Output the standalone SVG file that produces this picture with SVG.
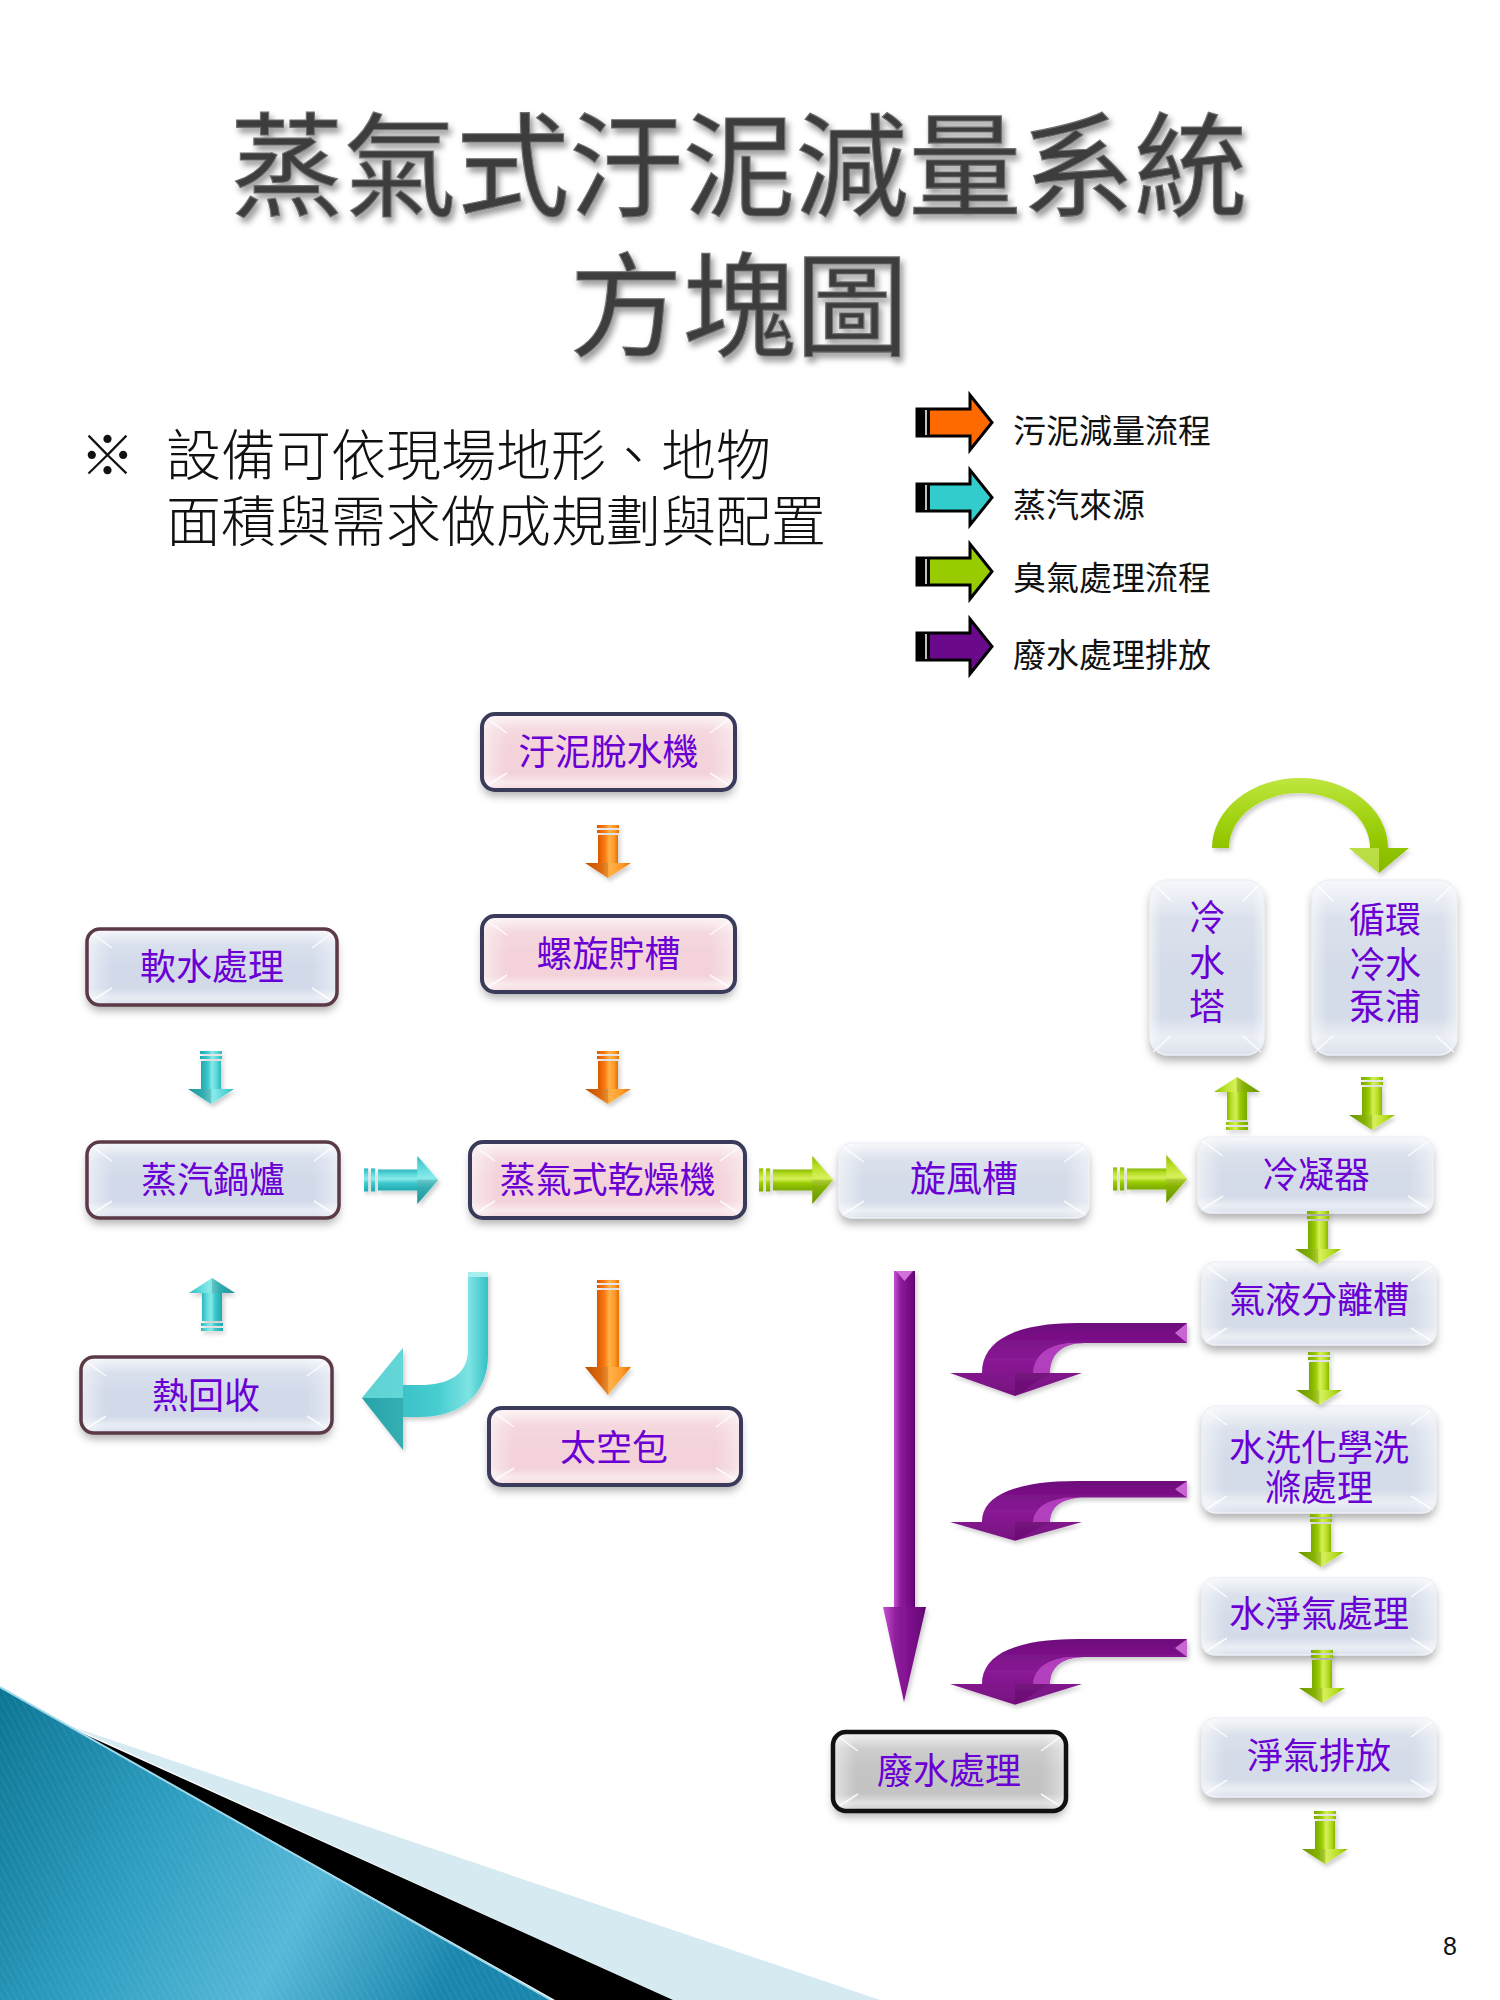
<svg xmlns="http://www.w3.org/2000/svg" xmlns:xlink="http://www.w3.org/1999/xlink" width="1500" height="2000" viewBox="0 0 1500 2000">
<style>
.t{font-family:"Liberation Sans","Noto Sans CJK TC","Noto Sans CJK SC",sans-serif}
.lbl{font-size:36px;fill:#6a00d4;text-anchor:middle}
.face{filter:url(#sh)}
.bv{fill:url(#gV)}
.bh{fill:url(#gH);stroke-width:3.5}
.pink .face{fill:#f3d2d9}
.pink .bh{stroke:#3a3a5a;stroke-width:4}
.blue .face{fill:#d2daea}
.blue .bh{stroke:#5c3947}
.soft .face{fill:#d5dce9}
.soft .bh{stroke:#eef1f7;stroke-width:1.5}
.gray .face{fill:#c4c4c4}
.gray .bh{stroke:#111;stroke-width:4.5}
.cl{stroke:#fff;stroke-opacity:.85;stroke-width:1.5;fill:none}
.leg{font-size:33px;fill:#111}
.lga{stroke:#000;stroke-width:3;stroke-linejoin:miter}
</style>
<defs>
<filter id="sh" x="-10%" y="-20%" width="120%" height="160%"><feDropShadow dx="0" dy="6" stdDeviation="4" flood-color="#000" flood-opacity="0.3"/></filter>
<filter id="tsh" x="-5%" y="-10%" width="110%" height="130%"><feDropShadow dx="3" dy="5" stdDeviation="3" flood-color="#000" flood-opacity="0.4"/></filter>
<filter id="ash" x="-30%" y="-30%" width="160%" height="160%"><feDropShadow dx="2" dy="3" stdDeviation="2" flood-color="#000" flood-opacity="0.2"/></filter>
<linearGradient id="gV" x1="0" y1="0" x2="0" y2="1">
<stop offset="0" stop-color="#fff" stop-opacity=".8"/><stop offset=".22" stop-color="#fff" stop-opacity=".15"/><stop offset=".5" stop-color="#fff" stop-opacity="0"/><stop offset=".78" stop-color="#fff" stop-opacity="0"/><stop offset=".9" stop-color="#fff" stop-opacity=".5"/><stop offset="1" stop-color="#fff" stop-opacity=".15"/>
</linearGradient>
<linearGradient id="gH" x1="0" y1="0" x2="1" y2="0">
<stop offset="0" stop-color="#fff" stop-opacity=".5"/><stop offset=".1" stop-color="#fff" stop-opacity="0"/><stop offset=".9" stop-color="#fff" stop-opacity="0"/><stop offset="1" stop-color="#fff" stop-opacity=".45"/>
</linearGradient>
<linearGradient id="gOr" x1="0" y1="0" x2="1" y2="0"><stop offset="0" stop-color="#d85a00"/><stop offset=".35" stop-color="#ff7a10"/><stop offset=".55" stop-color="#ffb24a"/><stop offset=".8" stop-color="#ff9a2a"/><stop offset="1" stop-color="#e57000"/></linearGradient>
<linearGradient id="gCy" x1="0" y1="0" x2="1" y2="0"><stop offset="0" stop-color="#1fa8b0"/><stop offset=".35" stop-color="#3cc8cc"/><stop offset=".55" stop-color="#8aeaea"/><stop offset=".8" stop-color="#55d5d8"/><stop offset="1" stop-color="#2cb5bb"/></linearGradient>
<linearGradient id="gGr" x1="0" y1="0" x2="1" y2="0"><stop offset="0" stop-color="#7aa800"/><stop offset=".35" stop-color="#99cc00"/><stop offset=".55" stop-color="#d6f05a"/><stop offset=".8" stop-color="#b5dd22"/><stop offset="1" stop-color="#88b800"/></linearGradient>
<linearGradient id="gPuV" x1="0" y1="0" x2="1" y2="0"><stop offset="0" stop-color="#c552cf"/><stop offset=".3" stop-color="#8e1c9c"/><stop offset=".7" stop-color="#7a0c88"/><stop offset="1" stop-color="#5e0570"/></linearGradient>
<linearGradient id="gPuC" x1="0" y1="0" x2="0" y2="1"><stop offset="0" stop-color="#6e0a7c"/><stop offset=".5" stop-color="#8a1a96"/><stop offset="1" stop-color="#76107f"/></linearGradient>
<linearGradient id="gCyC" x1="0" y1="0" x2="1" y2="0"><stop offset="0" stop-color="#2db7bd"/><stop offset=".6" stop-color="#47cdd0"/><stop offset=".85" stop-color="#7ee3e3"/><stop offset="1" stop-color="#34c0c4"/></linearGradient>
<linearGradient id="gGrC" x1="0" y1="0" x2="0" y2="1"><stop offset="0" stop-color="#bfe640"/><stop offset=".5" stop-color="#9ccf08"/><stop offset="1" stop-color="#86b800"/></linearGradient>
<linearGradient id="gBlue" x1="0" y1="0" x2="1" y2="0.3"><stop offset="0" stop-color="#0c7594"/><stop offset=".4" stop-color="#2f9fc2"/><stop offset=".7" stop-color="#58b8d8"/><stop offset="1" stop-color="#1a86ad"/></linearGradient>
<pattern id="stripes" width="6" height="6" patternUnits="userSpaceOnUse" patternTransform="rotate(-28)"><rect width="6" height="6" fill="none"/><line x1="0" y1="0" x2="0" y2="6" stroke="#fff" stroke-opacity="0.08" stroke-width="2"/></pattern>
<g id="dOr" fill="url(#gOr)"><rect x="-11" y="0" width="22" height="3"/><rect x="-11" y="5" width="22" height="3"/><rect x="-10" y="10" width="20" height="29"/><polygon points="-23,38 23,38 0,53"/><polygon points="-23,38 0,38 0,53" fill="#000" fill-opacity=".12"/></g>
<g id="dCy" fill="url(#gCy)"><rect x="-11" y="0" width="22" height="3"/><rect x="-11" y="5" width="22" height="3"/><rect x="-10" y="10" width="20" height="29"/><polygon points="-23,38 23,38 0,53"/><polygon points="-23,38 0,38 0,53" fill="#000" fill-opacity=".12"/></g>
<g id="dGr" fill="url(#gGr)"><rect x="-11" y="0" width="22" height="3"/><rect x="-11" y="5" width="22" height="3"/><rect x="-10" y="10" width="20" height="29"/><polygon points="-23,38 23,38 0,53"/><polygon points="-23,38 0,38 0,53" fill="#000" fill-opacity=".12"/></g>
<g id="pcurve"><path d="M1187,1323 L1078,1323 C1020,1323 982,1338 982,1373 L950,1373 L1015,1396 L1082,1373 L1050,1373 C1050,1356 1060,1343 1085,1343 L1187,1343 Z" fill="url(#gPuC)"/><path d="M1050,1373 C1050,1356 1060,1343 1085,1343 L1068,1343 C1044,1346 1034,1358 1033,1373 Z" fill="#c24ccc" fill-opacity=".75"/><polygon points="1015,1396 1015,1373 1050,1373" fill="#000" fill-opacity=".1"/><polygon points="1187,1323 1175,1333 1187,1343" fill="#c866d0"/></g>
</defs>
<rect width="1500" height="2000" fill="#fff"/>
<g id="decoration">
<polygon points="70,1726 880,2000 673,2000" fill="#d6eaf2"/>
<polygon points="0,1687 551,2000 0,2000" fill="url(#gBlue)"/>
<polygon points="0,1687 551,2000 0,2000" fill="url(#stripes)"/>
<polygon points="75,1730 673,2000 555,2000" fill="#000"/>
<line x1="0" y1="1687" x2="551" y2="2000" stroke="#9fd8ea" stroke-width="2"/>
</g>
<g id="title" class="t" filter="url(#tsh)" text-anchor="middle" fill="#3c3c3c" stroke="#707070" stroke-width="1.2">
<text x="739" y="207" font-size="113">蒸氣式汙泥減量系統<tspan x="739" y="347">方塊圖</tspan></text>
</g>
<g id="note" class="t" font-size="55" fill="#111" font-weight="300">
<text x="80" y="475">※</text>
<text x="166" y="475">設備可依現場地形、地物<tspan x="166" y="541">面積與需求做成規劃與配置</tspan></text>
</g>
<g id="legend" class="t">
<polygon class="lga" points="917,409 970,409 970,395 992,422.5 970,450 970,436 917,436" fill="#ff6a00"/>
<rect x="917" y="409" width="13" height="27" fill="#000"/><line x1="926" y1="410" x2="926" y2="435" stroke="#fff" stroke-width="1.5"/>
<text class="leg" x="1013" y="443">污泥減量流程</text>
<polygon class="lga" points="917,484 970,484 970,470 992,497.5 970,525 970,511 917,511" fill="#33cccc"/>
<rect x="917" y="484" width="13" height="27" fill="#000"/><line x1="926" y1="485" x2="926" y2="510" stroke="#fff" stroke-width="1.5"/>
<text class="leg" x="1013" y="517">蒸汽來源</text>
<polygon class="lga" points="917,558 970,558 970,544 992,571.5 970,599 970,585 917,585" fill="#99cc00"/>
<rect x="917" y="558" width="13" height="27" fill="#000"/><line x1="926" y1="559" x2="926" y2="584" stroke="#fff" stroke-width="1.5"/>
<text class="leg" x="1013" y="590">臭氣處理流程</text>
<polygon class="lga" points="917,633 970,633 970,619 992,646.5 970,674 970,660 917,660" fill="#6a0a8a"/>
<rect x="917" y="633" width="13" height="27" fill="#000"/><line x1="926" y1="634" x2="926" y2="659" stroke="#fff" stroke-width="1.5"/>
<text class="leg" x="1013" y="667">廢水處理排放</text>
</g>
<g id="nodes" class="t">
<g id="n1" class="node pink"><rect class="face" x="482" y="714" width="253" height="76" rx="13"/><rect class="bv" x="482" y="714" width="253" height="76" rx="13"/><path class="cl" d="M485,717 l22,16 M732,717 l-22,16 M485,787 l22,-14 M732,787 l-22,-14"/><rect class="bh" x="482" y="714" width="253" height="76" rx="13"/><text class="lbl" x="608.5" y="765">汙泥脫水機</text></g>
<g id="n2" class="node pink"><rect class="face" x="482" y="916" width="253" height="76" rx="13"/><rect class="bv" x="482" y="916" width="253" height="76" rx="13"/><path class="cl" d="M485,919 l22,16 M732,919 l-22,16 M485,989 l22,-14 M732,989 l-22,-14"/><rect class="bh" x="482" y="916" width="253" height="76" rx="13"/><text class="lbl" x="608.5" y="967">螺旋貯槽</text></g>
<g id="n3" class="node blue"><rect class="face" x="87" y="929" width="250" height="76" rx="13"/><rect class="bv" x="87" y="929" width="250" height="76" rx="13"/><path class="cl" d="M90,932 l22,16 M334,932 l-22,16 M90,1002 l22,-14 M334,1002 l-22,-14"/><rect class="bh" x="87" y="929" width="250" height="76" rx="13"/><text class="lbl" x="212" y="980">軟水處理</text></g>
<g id="n4" class="node blue"><rect class="face" x="87" y="1142" width="252" height="76" rx="13"/><rect class="bv" x="87" y="1142" width="252" height="76" rx="13"/><path class="cl" d="M90,1145 l22,16 M336,1145 l-22,16 M90,1215 l22,-14 M336,1215 l-22,-14"/><rect class="bh" x="87" y="1142" width="252" height="76" rx="13"/><text class="lbl" x="213" y="1193">蒸汽鍋爐</text></g>
<g id="n5" class="node pink"><rect class="face" x="470" y="1142" width="275" height="76" rx="13"/><rect class="bv" x="470" y="1142" width="275" height="76" rx="13"/><path class="cl" d="M473,1145 l22,16 M742,1145 l-22,16 M473,1215 l22,-14 M742,1215 l-22,-14"/><rect class="bh" x="470" y="1142" width="275" height="76" rx="13"/><text class="lbl" x="607.5" y="1193">蒸氣式乾燥機</text></g>
<g id="n6" class="node soft"><rect class="face" x="839" y="1143" width="250" height="75" rx="13"/><rect class="bv" x="839" y="1143" width="250" height="75" rx="13"/><path class="cl" d="M842,1146 l22,16 M1086,1146 l-22,16 M842,1215 l22,-14 M1086,1215 l-22,-14"/><rect class="bh" x="839" y="1143" width="250" height="75" rx="13"/><text class="lbl" x="964" y="1192">旋風槽</text></g>
<g id="n7" class="node soft"><rect class="face" x="1198" y="1137" width="235" height="76" rx="13"/><rect class="bv" x="1198" y="1137" width="235" height="76" rx="13"/><path class="cl" d="M1201,1140 l22,16 M1430,1140 l-22,16 M1201,1210 l22,-14 M1430,1210 l-22,-14"/><rect class="bh" x="1198" y="1137" width="235" height="76" rx="13"/><text class="lbl" x="1316" y="1188">冷凝器</text></g>
<g id="n8" class="node soft"><rect class="face" x="1150" y="880" width="114" height="175" rx="18"/><rect class="bv" x="1150" y="880" width="114" height="175" rx="18"/><path class="cl" d="M1153,883 l18,18 M1261,883 l-18,18 M1153,1052 l18,-16 M1261,1052 l-18,-16"/><rect class="bh" x="1150" y="880" width="114" height="175" rx="18"/><text class="lbl" x="1207" y="931">冷<tspan x="1207" y="976">水</tspan><tspan x="1207" y="1020">塔</tspan></text></g>
<g id="n9" class="node soft"><rect class="face" x="1312" y="880" width="145" height="175" rx="18"/><rect class="bv" x="1312" y="880" width="145" height="175" rx="18"/><path class="cl" d="M1315,883 l18,18 M1454,883 l-18,18 M1315,1052 l18,-16 M1454,1052 l-18,-16"/><rect class="bh" x="1312" y="880" width="145" height="175" rx="18"/><text class="lbl" x="1385" y="933">循環<tspan x="1385" y="978">冷水</tspan><tspan x="1385" y="1020">泵浦</tspan></text></g>
<g id="n10" class="node soft"><rect class="face" x="1202" y="1262" width="234" height="83" rx="13"/><rect class="bv" x="1202" y="1262" width="234" height="83" rx="13"/><path class="cl" d="M1205,1265 l22,16 M1433,1265 l-22,16 M1205,1342 l22,-14 M1433,1342 l-22,-14"/><rect class="bh" x="1202" y="1262" width="234" height="83" rx="13"/><text class="lbl" x="1319" y="1313">氣液分離槽</text></g>
<g id="n11" class="node soft"><rect class="face" x="1202" y="1406" width="234" height="107" rx="14"/><rect class="bv" x="1202" y="1406" width="234" height="107" rx="14"/><path class="cl" d="M1205,1409 l22,16 M1433,1409 l-22,16 M1205,1510 l22,-14 M1433,1510 l-22,-14"/><rect class="bh" x="1202" y="1406" width="234" height="107" rx="14"/><text class="lbl" x="1319" y="1461">水洗化學洗<tspan x="1319" y="1501">滌處理</tspan></text></g>
<g id="n12" class="node soft"><rect class="face" x="1202" y="1578" width="234" height="77" rx="13"/><rect class="bv" x="1202" y="1578" width="234" height="77" rx="13"/><path class="cl" d="M1205,1581 l22,16 M1433,1581 l-22,16 M1205,1652 l22,-14 M1433,1652 l-22,-14"/><rect class="bh" x="1202" y="1578" width="234" height="77" rx="13"/><text class="lbl" x="1319" y="1627">水淨氣處理</text></g>
<g id="n13" class="node soft"><rect class="face" x="1202" y="1718" width="234" height="79" rx="13"/><rect class="bv" x="1202" y="1718" width="234" height="79" rx="13"/><path class="cl" d="M1205,1721 l22,16 M1433,1721 l-22,16 M1205,1794 l22,-14 M1433,1794 l-22,-14"/><rect class="bh" x="1202" y="1718" width="234" height="79" rx="13"/><text class="lbl" x="1319" y="1769">淨氣排放</text></g>
<g id="n14" class="node blue"><rect class="face" x="81" y="1357" width="251" height="76" rx="13"/><rect class="bv" x="81" y="1357" width="251" height="76" rx="13"/><path class="cl" d="M84,1360 l22,16 M329,1360 l-22,16 M84,1430 l22,-14 M329,1430 l-22,-14"/><rect class="bh" x="81" y="1357" width="251" height="76" rx="13"/><text class="lbl" x="206" y="1409">熱回收</text></g>
<g id="n15" class="node pink"><rect class="face" x="489" y="1408" width="252" height="77" rx="13"/><rect class="bv" x="489" y="1408" width="252" height="77" rx="13"/><path class="cl" d="M492,1411 l22,16 M738,1411 l-22,16 M492,1482 l22,-14 M738,1482 l-22,-14"/><rect class="bh" x="489" y="1408" width="252" height="77" rx="13"/><text class="lbl" x="614" y="1461">太空包</text></g>
<g id="n16" class="node gray"><rect class="face" x="833" y="1732" width="233" height="79" rx="13"/><rect class="bv" x="833" y="1732" width="233" height="79" rx="13"/><path class="cl" d="M836,1735 l22,16 M1063,1735 l-22,16 M836,1808 l22,-14 M1063,1808 l-22,-14"/><rect class="bh" x="833" y="1732" width="233" height="79" rx="13"/><text class="lbl" x="949" y="1784">廢水處理</text></g>
</g>
<g id="connectors" filter="url(#ash)">
<use href="#dOr" transform="translate(608,825)"/>
<use href="#dOr" transform="translate(608,1051)"/>
<use href="#dCy" transform="translate(211,1051)"/>
<use href="#dCy" transform="translate(212,1331) rotate(180)"/>
<use href="#dCy" transform="translate(364,1180) rotate(-90) scale(1.05,1.4)"/>
<use href="#dGr" transform="translate(759,1180) rotate(-90) scale(1.05,1.4)"/>
<use href="#dGr" transform="translate(1113,1179) rotate(-90) scale(1.05,1.4)"/>
<use href="#dGr" transform="translate(1237,1130) rotate(180)"/>
<use href="#dGr" transform="translate(1372,1077)"/>
<use href="#dGr" transform="translate(1318,1211)"/>
<use href="#dGr" transform="translate(1319,1352)"/>
<use href="#dGr" transform="translate(1321,1514)"/>
<use href="#dGr" transform="translate(1322,1650)"/>
<use href="#dGr" transform="translate(1325,1811)"/>
<g id="orange-long" fill="url(#gOr)"><rect x="597" y="1280" width="22" height="3"/><rect x="597" y="1285" width="22" height="3"/><rect x="597" y="1290" width="22" height="78"/><polygon points="585,1367 631,1367 608,1395"/><polygon points="585,1367 608,1367 608,1395" fill="#000" fill-opacity=".12"/></g>
<g id="cyan-curve"><path d="M468,1272 L488,1272 L488,1355 C488,1395 460,1417 420,1417 L403,1417 L403,1450 L362,1398 L403,1348 L403,1385 L420,1385 C448,1385 468,1375 468,1350 Z" fill="url(#gCyC)"/><polygon points="362,1398 403,1348 403,1398" fill="#7fe3e3" fill-opacity=".6"/><polygon points="362,1398 403,1450 403,1398" fill="#000" fill-opacity=".1"/><rect x="468" y="1272" width="20" height="5" fill="#a8eeee"/></g>
<g id="green-curve"><path d="M1212,848 A88,70 0 0 1 1388,848 L1409,848 L1379,873 L1349,848 L1370,848 A70.5,55 0 0 0 1229,848 Z" fill="url(#gGrC)"/><polygon points="1349,848 1379,848 1379,873" fill="#d8f070" fill-opacity=".6"/></g>
<g id="purple-long"><rect x="894" y="1271" width="21" height="337" fill="url(#gPuV)"/><polygon points="883,1607 926,1607 904,1702" fill="url(#gPuV)"/><polygon points="896,1271 913,1271 904.5,1281" fill="#d070d8"/></g>
<use href="#pcurve"/>
<use href="#pcurve" transform="translate(0,1481) scale(1,0.82) translate(0,-1323)"/>
<use href="#pcurve" transform="translate(0,1639) scale(1,0.9) translate(0,-1323)"/>
</g>
<text x="1450" y="1955" font-family="Liberation Sans, sans-serif" font-size="25" text-anchor="middle" fill="#111">8</text>
</svg>
